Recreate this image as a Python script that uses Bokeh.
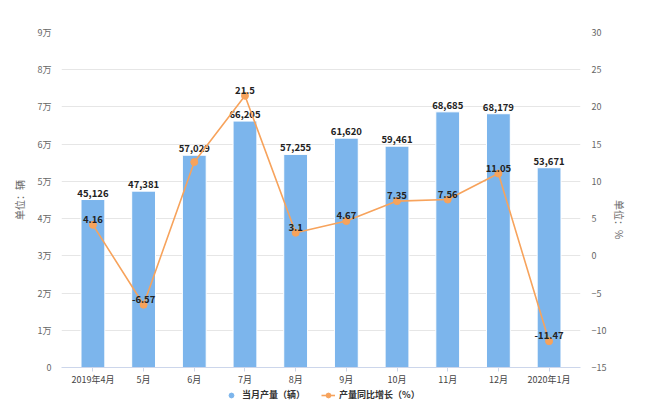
import math
from bokeh.plotting import figure
from bokeh.layouts import column
from bokeh.models import (Range1d, LinearAxis, FixedTicker, ColumnDataSource,
                          Legend, LegendItem, FactorRange)
from bokeh.core.properties import value
from bokeh.embed import file_html
from bokeh.resources import INLINE

months = ["2019年4月", "5月", "6月", "7月", "8月", "9月", "10月", "11月", "12月", "2020年1月"]
output = [45126, 47381, 57029, 66205, 57255, 61620, 59461, 68685, 68179, 53671]
growth = [4.16, -6.57, 12.6, 21.5, 3.1, 4.67, 7.35, 7.56, 11.05, -11.47]
growth_labels = ["4.16", "-6.57", "", "21.5", "3.1", "4.67", "7.35", "7.56", "11.05", "-11.47"]
left_ticks = [0, 10000, 20000, 30000, 40000, 50000, 60000, 70000, 80000, 90000]
left_tick_labels = ["0", "1万", "2万", "3万", "4万", "5万", "6万", "7万", "8万", "9万"]
right_ticks = [-15, -10, -5, 0, 5, 10, 15, 20, 25, 30]
series_names = ["当月产量（辆）", "产量同比增长（%）"]

FONT = "Noto Sans CJK SC"
BAR = "#7cb5ec"
LINE = "#f7a35c"

src = ColumnDataSource(dict(
    x=months, out=output, out_lbl=[f"{v:,}" for v in output],
    g=growth, g_lbl=growth_labels,
))

p = figure(width=650, height=388,
           x_range=FactorRange(*months, range_padding=0.12,
                               range_padding_units="absolute"),
           y_range=Range1d(0, 90000), output_backend="svg", toolbar_location=None,
           min_border_left=61, min_border_right=70, min_border_top=32,
           min_border_bottom=20)
p.outline_line_color = None
p.extra_y_ranges = {"pct": Range1d(-15, 30)}

# grid
p.xgrid.grid_line_color = None
p.ygrid.grid_line_color = "#e6e6e6"
p.ygrid.ticker = FixedTicker(ticks=left_ticks)

# left axis
ya = p.yaxis[0]
ya.ticker = FixedTicker(ticks=left_ticks)
ya.major_label_overrides = {t: l for t, l in zip(left_ticks, left_tick_labels)}
ya.axis_line_color = None
ya.major_tick_line_color = None
ya.minor_tick_line_color = None
ya.major_label_text_font = FONT
ya.major_label_text_font_size = "9px"
ya.major_label_text_color = "#666666"
ya.major_label_standoff = 4
ya.axis_label = "单位：辆"
ya.axis_label_text_font = FONT
ya.axis_label_text_font_size = "10px"
ya.axis_label_text_font_style = "normal"
ya.axis_label_text_color = "#666666"
ya.axis_label_standoff = 8

# right axis
ra = LinearAxis(y_range_name="pct", ticker=FixedTicker(ticks=right_ticks))
ra.axis_line_color = None
ra.major_tick_line_color = None
ra.minor_tick_line_color = None
ra.major_label_text_font = FONT
ra.major_label_text_font_size = "9px"
ra.major_label_text_color = "#666666"
ra.major_label_standoff = 5
ra.axis_label = "单位：%"
ra.axis_label_orientation = -math.pi / 2
ra.axis_label_text_font = FONT
ra.axis_label_text_font_size = "10px"
ra.axis_label_text_font_style = "normal"
ra.axis_label_text_color = "#666666"
ra.axis_label_standoff = 10
p.add_layout(ra, "right")

# x axis
xa = p.xaxis[0]
xa.axis_line_color = "#ccd6eb"
xa.major_tick_line_color = "#ccd6eb"
xa.major_tick_in = 0
xa.major_tick_out = 4
xa.major_label_text_font = FONT
xa.major_label_text_font_size = "9px"
xa.major_label_text_color = "#444444"
xa.major_label_standoff = 1

# bars
p.vbar(x="x", top="out", width=0.47, source=src, fill_color=BAR,
       line_color="white", line_width=1)
p.text(x="x", y="out", text="out_lbl", source=src, text_align="center",
       text_baseline="bottom", y_offset=-3, text_font=value(FONT),
       text_font_size="9.5px", text_font_style="bold", text_color="#222222")

# line
p.line(x="x", y="g", source=src, y_range_name="pct", line_color=LINE,
       line_width=1.6)
p.scatter(x="x", y="g", source=src, y_range_name="pct", size=7,
          fill_color=LINE, line_color=LINE)
p.text(x="x", y="g", text="g_lbl", source=src, y_range_name="pct",
       text_align="center", text_baseline="bottom", y_offset=-2,
       text_font=value(FONT), text_font_size="9.5px", text_font_style="bold",
       text_color="#222222")

# legend strip (separate figure; its marks lie outside its visible range)
lf = figure(width=650, height=32, x_range=Range1d(0, 1), y_range=Range1d(0, 1),
            output_backend="svg", toolbar_location=None,
            x_axis_location=None, y_axis_location=None,
            min_border_left=0, min_border_right=0, min_border_top=0,
            min_border_bottom=0)
lf.grid.visible = False
lf.outline_line_color = None
r_bar = lf.scatter(x=[-5], y=[-5], size=9, fill_color=BAR, line_color=BAR)
r_ln = lf.line(x=[-6, -5], y=[-5, -5], line_color=LINE, line_width=1.6)
r_mk = lf.scatter(x=[-5], y=[-5], size=6, fill_color=LINE, line_color=LINE)
legend = Legend(items=[LegendItem(label=series_names[0], renderers=[r_bar]),
                       LegendItem(label=series_names[1], renderers=[r_ln, r_mk])],
                orientation="horizontal", location=(163, 19),
                label_text_font=FONT, label_text_font_size="9px",
                label_text_font_style="bold", label_text_color="#333333",
                background_fill_alpha=0, border_line_color=None,
                glyph_width=14, glyph_height=12, spacing=16, padding=0,
                margin=0, label_standoff=4, label_height=12)
lf.add_layout(legend, "center")

layout = column(p, lf, spacing=0)
open("out.html", "w").write(file_html(layout, INLINE))
